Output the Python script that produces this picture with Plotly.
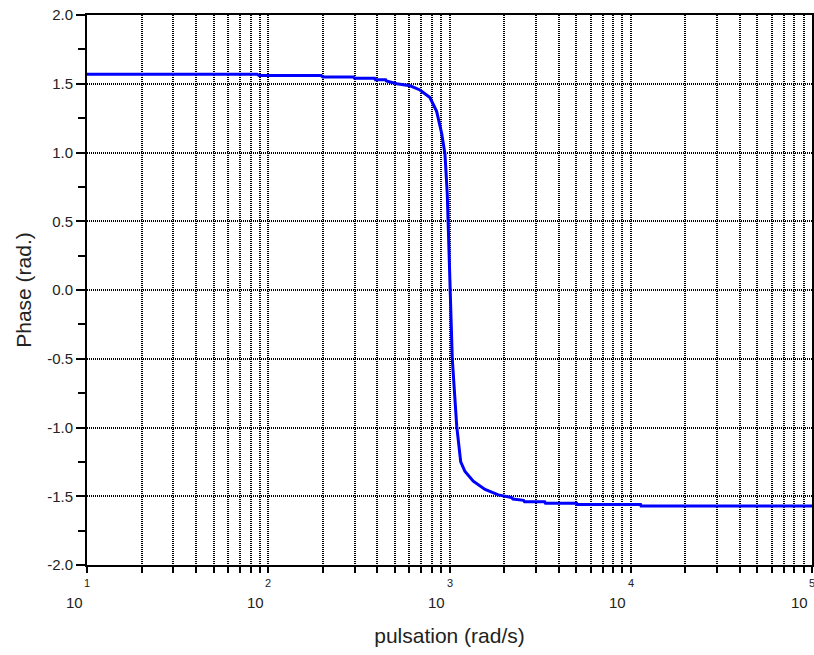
import math
import plotly.graph_objects as go

# pulsation (rad/s) and phase (rad.)
omega = [10, 86.7, 88.9, 196, 200, 295, 299, 386, 390, 444, 448, 512, 606, 687,
         780, 849, 905, 944, 972, 997, 1006, 1036, 1096, 1119, 1153, 1218, 1353,
         1570, 1860, 2203, 2240, 2560, 2595, 3350, 3385, 5030, 5070, 11330, 11400, 100000]
phase = [1.57, 1.57, 1.56, 1.56, 1.55, 1.55, 1.54, 1.54, 1.53, 1.53, 1.52, 1.50, 1.485, 1.455,
         1.40, 1.30, 1.14, 0.99, 0.70, 0.22, 0.0, -0.50, -0.99, -1.09, -1.25, -1.32, -1.39,
         -1.45, -1.49, -1.51, -1.52, -1.53, -1.54, -1.54, -1.55, -1.55, -1.56, -1.56, -1.57, -1.57]

x_major = [10, 100, 1000, 10000, 100000]
x_exponents = ["1", "2", "3", "4", "5"]
x_base = "10"
x_minor = [m * d for d in [10, 100, 1000, 10000] for m in range(2, 10)]
y_major = [-2.0, -1.5, -1.0, -0.5, 0.0, 0.5, 1.0, 1.5, 2.0]
y_labels = ["-2.0", "-1.5", "-1.0", "-0.5", "0.0", "0.5", "1.0", "1.5", "2.0"]

fig = go.Figure()
fig.add_trace(go.Scatter(x=omega, y=phase, mode="lines",
                         line=dict(color="#0000ff", width=3), showlegend=False))

FONT = "Liberation Sans, Arial, sans-serif"
TXT = "#222222"

# x tick labels in the "10 with exponent above-right" style
for v, e in zip(x_major, x_exponents):
    fig.add_annotation(x=math.log10(v), xref="x", y=0, yref="paper",
                       text=e, showarrow=False, xanchor="center", yanchor="middle",
                       yshift=-18, font=dict(size=11, family=FONT, color=TXT))
    fig.add_annotation(x=math.log10(v), xref="x", y=0, yref="paper",
                       text=x_base, showarrow=False, xanchor="center", yanchor="middle",
                       xshift=-13, yshift=-37, font=dict(size=15, family=FONT, color=TXT))

fig.update_layout(
    width=814, height=655,
    margin=dict(l=87, r=2, t=15, b=90, autoexpand=False),
    paper_bgcolor="white", plot_bgcolor="white",
    font=dict(family=FONT, color=TXT),
)
fig.update_xaxes(
    type="log", range=[1, 5], automargin=False,
    tickmode="array", tickvals=x_major, showticklabels=False,
    ticks="outside", ticklen=6, tickwidth=2, tickcolor="black",
    showline=True, linecolor="black", linewidth=2, mirror=True,
    showgrid=True, gridcolor="black", gridwidth=2, griddash="1px,1px",
    minor=dict(tickvals=x_minor, ticks="outside", ticklen=6, tickwidth=1.5,
               tickcolor="black", showgrid=True, gridcolor="black",
               gridwidth=1.5, griddash="1px,1px"),
    zeroline=False,
    title=dict(text="pulsation (rad/s)", font=dict(size=21, family=FONT, color=TXT),
               standoff=56),
)
fig.update_yaxes(
    range=[-2.0, 2.0], automargin=False,
    tickmode="array", tickvals=y_major, ticktext=y_labels,
    tickfont=dict(size=15, family=FONT, color=TXT),
    ticks="outside", ticklen=9, tickwidth=1.5, tickcolor="black",
    showline=True, linecolor="black", linewidth=2, mirror=True,
    showgrid=True, gridcolor="black", gridwidth=1.5, griddash="1px,1px",
    minor=dict(dtick=0.25, tick0=0, ticks="outside", ticklen=7, tickwidth=1.5,
               tickcolor="black", showgrid=False),
    zeroline=False,
    title=dict(text="Phase (rad.)", font=dict(size=21, family=FONT, color=TXT),
               standoff=10),
)

fig.write_html("out.html")
